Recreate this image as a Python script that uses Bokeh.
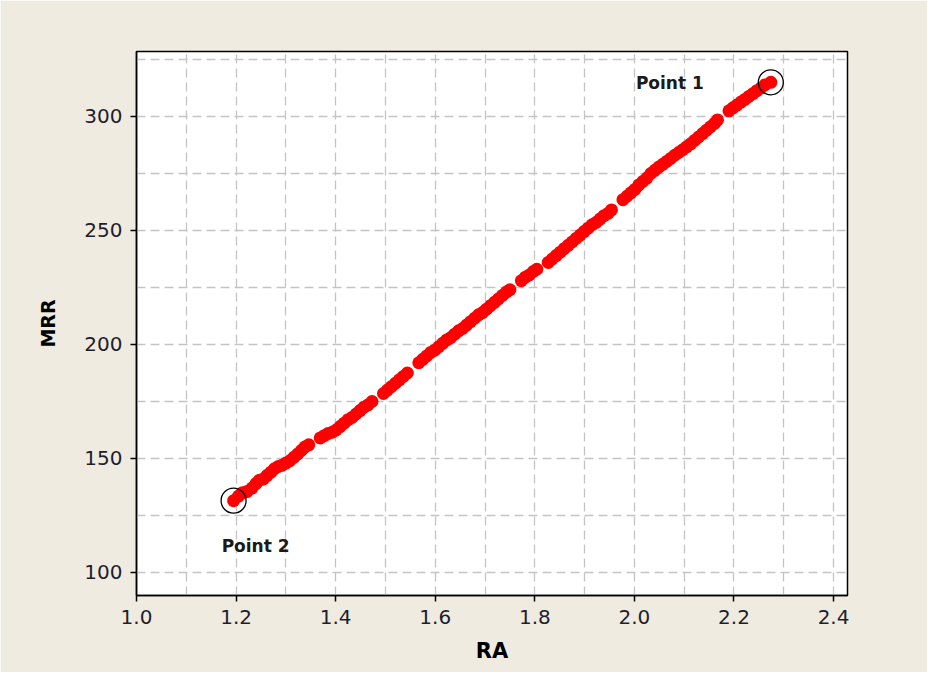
from bokeh.plotting import figure
from bokeh.models import FixedTicker, NumeralTickFormatter, Range1d, ColumnDataSource
from bokeh.core.properties import value
from bokeh.embed import file_html
from bokeh.resources import INLINE

ra = [1.195, 1.205, 1.213, 1.222, 1.232, 1.240, 1.247, 1.255, 1.262, 1.270, 1.277, 1.285,
      1.292, 1.300, 1.308, 1.316, 1.324, 1.331, 1.338, 1.346,
      1.369, 1.377, 1.385, 1.393, 1.401, 1.409, 1.417, 1.425, 1.433, 1.441, 1.449, 1.457, 1.465, 1.473,
      1.496, 1.504, 1.512, 1.520, 1.528, 1.536, 1.544,
      1.567, 1.575, 1.583, 1.591, 1.599, 1.607, 1.615, 1.623, 1.631, 1.639, 1.647, 1.655, 1.663,
      1.671, 1.679, 1.687, 1.695, 1.703, 1.711, 1.719, 1.727, 1.735, 1.743, 1.750,
      1.773, 1.781, 1.789, 1.797, 1.804,
      1.827, 1.835, 1.843, 1.851, 1.859, 1.867, 1.875, 1.883, 1.891, 1.899, 1.907, 1.915, 1.923,
      1.931, 1.939, 1.947, 1.954,
      1.977, 1.985, 1.993, 2.001, 2.009, 2.017, 2.025, 2.033, 2.041, 2.049, 2.057, 2.065, 2.073,
      2.081, 2.089, 2.097, 2.105, 2.113, 2.121, 2.129, 2.137, 2.145, 2.153, 2.161, 2.167,
      2.190, 2.198, 2.206, 2.214, 2.222, 2.230, 2.238, 2.246, 2.254, 2.262, 2.274]
mrr = [131.5, 133.5, 135.0, 135.5, 137.0, 139.0, 140.5, 141.0, 142.5, 144.0, 145.5, 146.5,
       147.0, 148.0, 149.0, 150.5, 152.0, 153.5, 155.0, 156.0,
       159.0, 160.0, 161.0, 161.5, 162.5, 164.0, 165.5, 167.0, 168.0, 169.5, 171.0, 172.5, 173.5, 175.0,
       178.5, 180.0, 181.5, 183.0, 184.5, 186.0, 187.5,
       192.0, 193.5, 195.0, 196.5, 197.5, 199.0, 200.5, 202.0, 203.0, 204.5, 206.0, 207.0, 208.5,
       210.0, 211.5, 213.0, 214.0, 215.5, 217.0, 218.5, 220.0, 221.5, 223.0, 224.0,
       228.0, 229.5, 230.5, 232.0, 233.0,
       236.0, 237.5, 239.0, 240.5, 242.0, 243.5, 245.0, 246.5, 248.0, 249.5, 251.0, 252.5, 253.5,
       255.0, 256.5, 257.5, 259.0,
       263.5, 265.0, 266.5, 268.0, 270.0, 271.5, 273.0, 275.0, 276.4, 277.8, 279.0, 280.3, 281.6,
       283.0, 284.2, 285.4, 286.7, 288.0, 289.5, 291.0, 292.5, 294.0, 295.5, 297.0, 298.5,
       302.5, 303.8, 305.0, 306.3, 307.5, 308.8, 310.0, 311.3, 312.5, 313.8, 315.0]

marked_ra = [2.274, 1.195]
marked_mrr = [315.0, 131.5]
label_text = ["Point 1", "Point 2"]
label_ra = [2.003, 1.171]
label_mrr = [314.5, 111.8]

x_ticks = [1.0, 1.2, 1.4, 1.6, 1.8, 2.0, 2.2, 2.4]
x_grid = [1.1, 1.2, 1.3, 1.4, 1.5, 1.6, 1.7, 1.8, 1.9, 2.0, 2.1, 2.2, 2.3, 2.4]
y_ticks = [100, 150, 200, 250, 300]
y_grid = [100, 125, 150, 175, 200, 225, 250, 275, 300, 325]

BG = "#efebe1"
TXT = "#1e1e2e"

p = figure(width=927, height=672, output_backend="svg", toolbar_location=None,
           x_range=Range1d(1.0, 2.428), y_range=Range1d(89.9, 328.5),
           min_border_left=136, min_border_right=80, min_border_top=51, min_border_bottom=77)
p.background_fill_color = "white"
p.border_fill_color = BG
p.outline_line_color = "black"
p.outline_line_width = 1.5

p.xaxis.ticker = FixedTicker(ticks=x_ticks)
p.yaxis.ticker = FixedTicker(ticks=y_ticks)
p.xaxis.formatter = NumeralTickFormatter(format="0.0")
p.xgrid.ticker = FixedTicker(ticks=x_grid)
p.ygrid.ticker = FixedTicker(ticks=y_grid)
for g in (p.xgrid, p.ygrid):
    g.grid_line_color = "#c4c4c4"
    g.grid_line_dash = "9 5"
    g.grid_line_width = 1.3

for ax in (p.xaxis, p.yaxis):
    ax.axis_line_color = "black"
    ax.axis_line_width = 1.5
    ax.major_tick_line_color = "black"
    ax.major_tick_line_width = 1.5
    ax.major_tick_out = 6
    ax.major_tick_in = 0
    ax.minor_tick_line_color = None
    ax.major_label_text_font = "DejaVu Sans"
    ax.major_label_text_font_size = "20px"
    ax.major_label_text_color = TXT
    ax.major_label_standoff = 8
    ax.axis_label_text_font = "DejaVu Sans"
    ax.axis_label_text_font_style = "bold"
    ax.axis_label_text_color = "black"

p.xaxis.axis_label = "RA"
p.yaxis.axis_label = "MRR"
p.xaxis.axis_label_text_font_size = "21px"
p.yaxis.axis_label_text_font_size = "19px"
p.xaxis.axis_label_standoff = 12
p.yaxis.axis_label_standoff = 22
p.yaxis.major_label_orientation = "horizontal"

p.scatter(ra, mrr, size=13, color="#ff0000", line_color=None)
p.scatter(marked_ra, marked_mrr, size=25, fill_color=None, line_color="black", line_width=1.3)

src = ColumnDataSource(dict(x=label_ra, y=label_mrr, t=label_text))
p.text(x="x", y="y", text="t", source=src, text_font=value("DejaVu Sans"),
       text_font_style="bold", text_font_size="17px", text_color="#1a1a1a",
       text_baseline="middle", text_align="left")

open("out.html", "w").write(file_html(p, INLINE))
